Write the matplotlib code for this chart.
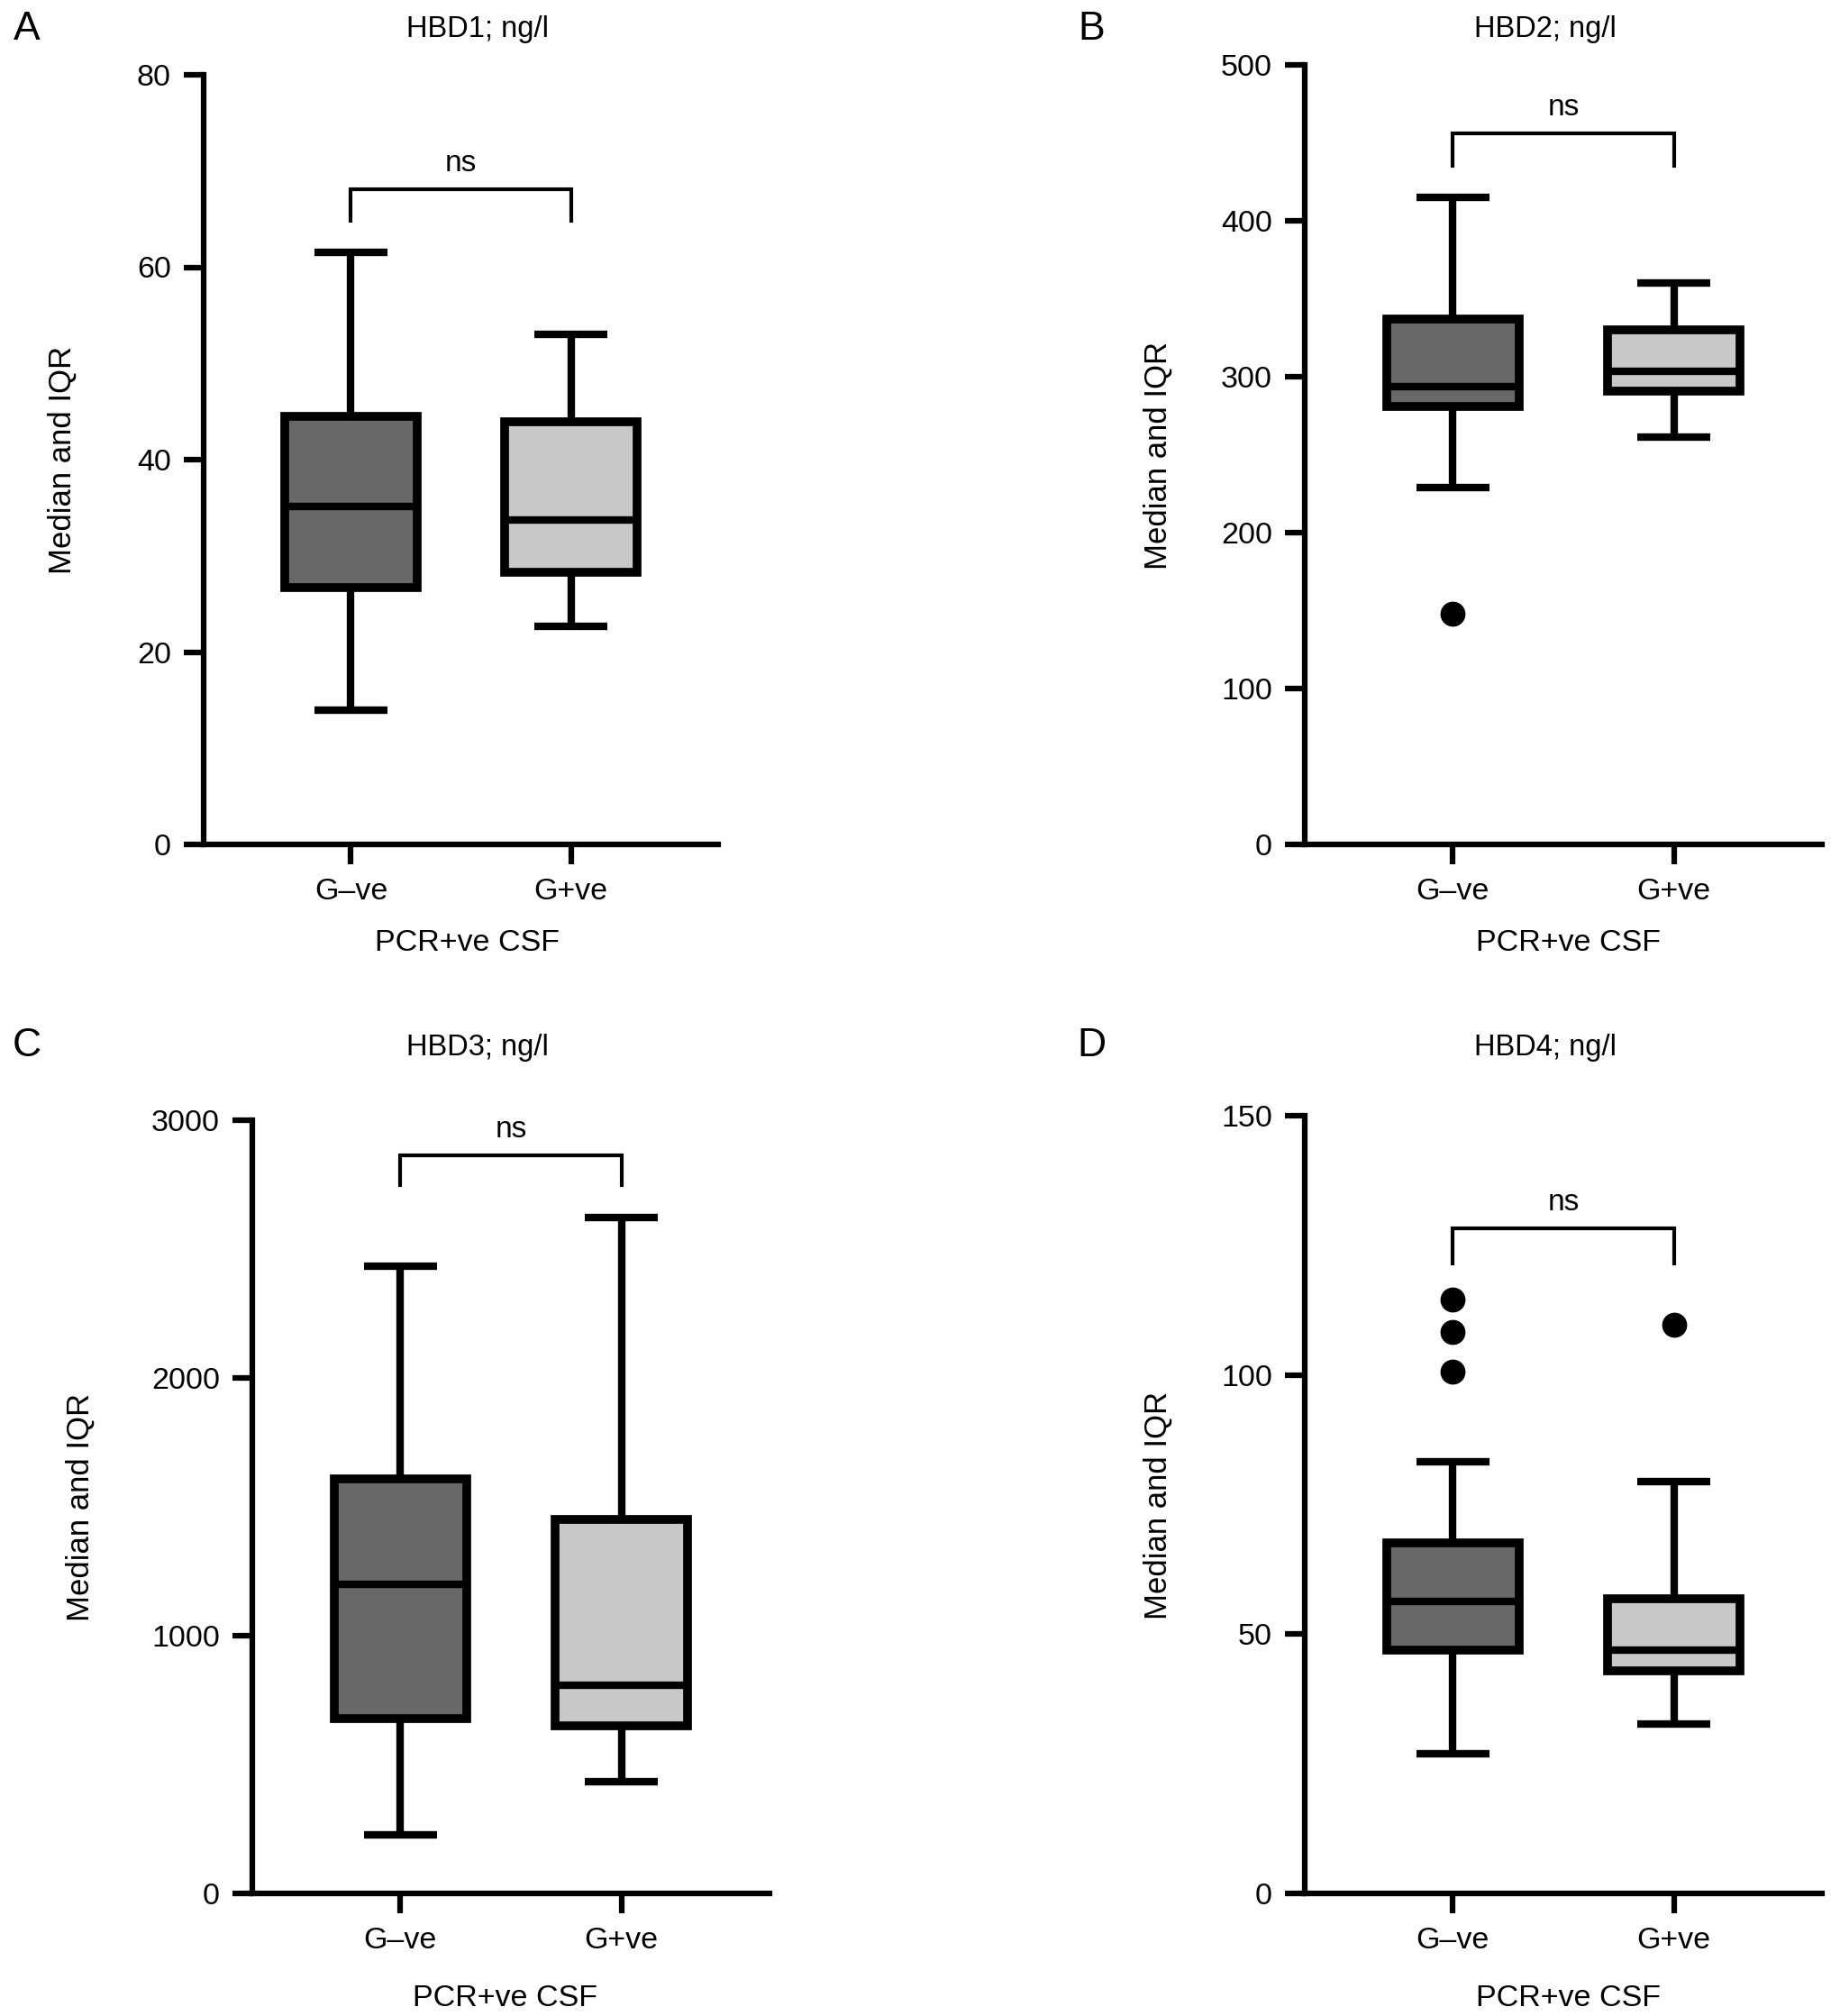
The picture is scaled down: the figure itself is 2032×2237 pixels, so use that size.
import matplotlib
matplotlib.use("Agg")
import matplotlib.pyplot as plt

plt.rcParams['font.family'] = ['Liberation Sans', 'DejaVu Sans']

# ---- data (median / IQR / whiskers / outliers) ----
groups = ['G–ve', 'G+ve']

hbd1_q1 = [26.7, 28.3]
hbd1_med = [35.1, 33.7]
hbd1_q3 = [44.5, 43.9]
hbd1_lo = [14.0, 22.7]
hbd1_hi = [61.5, 53.0]
hbd1_out = [[], []]

hbd2_q1 = [281, 291]
hbd2_med = [293.5, 303.6]
hbd2_q3 = [337, 330]
hbd2_lo = [229, 261]
hbd2_hi = [415, 360]
hbd2_out = [[148], []]

hbd3_q1 = [679, 650]
hbd3_med = [1200, 806]
hbd3_q3 = [1610, 1452]
hbd3_lo = [228, 433]
hbd3_hi = [2433, 2622]
hbd3_out = [[], []]

hbd4_q1 = [47.0, 43.0]
hbd4_med = [56.3, 47.0]
hbd4_q3 = [67.6, 56.8]
hbd4_lo = [27.0, 32.7]
hbd4_hi = [83.3, 79.5]
hbd4_out = [[114.6, 108.3, 100.7], [109.7]]

titles = ['HBD1; ng/l', 'HBD2; ng/l', 'HBD3; ng/l', 'HBD4; ng/l']
letters = ['A', 'B', 'C', 'D']
ylims = [80, 500, 3000, 150]
ysteps = [20, 100, 1000, 50]
# bracket height and the lower end of its legs
brackets = [(68.1, 64.8), (456, 435), (2865, 2750), (128.2, 121.5)]

box_colors = ['#686868', '#c8c8c8']

W, H = 2032, 2237
fig = plt.figure(figsize=(W / 100, H / 100), dpi=100)


def px_axes(x0, x1, ytop, ybot):
    return fig.add_axes([x0 / W, 1 - ybot / H, (x1 - x0) / W, (ybot - ytop) / H])


axes = [
    px_axes(226, 797, 83, 937),
    px_axes(1448, 2022, 72, 937),
    px_axes(280, 854, 1243, 2101),
    px_axes(1448, 2022, 1238, 2101),
]

panels = [
    (hbd1_q1, hbd1_med, hbd1_q3, hbd1_lo, hbd1_hi, hbd1_out),
    (hbd2_q1, hbd2_med, hbd2_q3, hbd2_lo, hbd2_hi, hbd2_out),
    (hbd3_q1, hbd3_med, hbd3_q3, hbd3_lo, hbd3_hi, hbd3_out),
    (hbd4_q1, hbd4_med, hbd4_q3, hbd4_lo, hbd4_hi, hbd4_out),
]

for i, ax in enumerate(axes):
    q1, med, q3, lo, hi, out = panels[i]
    stats = []
    for j in range(2):
        stats.append(dict(q1=q1[j], med=med[j], q3=q3[j], whislo=lo[j],
                          whishi=hi[j], fliers=out[j]))
    bp = ax.bxp(stats, positions=[1, 2], widths=0.6, capwidths=0.33,
                patch_artist=True, showfliers=True,
                boxprops=dict(edgecolor='black', linewidth=7, joinstyle='miter'),
                medianprops=dict(color='black', linewidth=6.0, solid_capstyle='butt'),
                whiskerprops=dict(color='black', linewidth=6.0, solid_capstyle='butt'),
                capprops=dict(color='black', linewidth=6.0, solid_capstyle='butt'),
                flierprops=dict(marker='o', markerfacecolor='black',
                                markeredgecolor='black', markersize=19))
    for patch, c in zip(bp['boxes'], box_colors):
        patch.set_facecolor(c)
    for w in bp['whiskers']:
        w.set_zorder(1)
    for c in bp['caps']:
        c.set_zorder(1)

    # significance bracket
    top, leg = brackets[i]
    ax.plot([1, 1, 2, 2], [leg, top, top, leg], color='black', lw=3,
            solid_joinstyle='miter', clip_on=False)
    ax.text(1.5, top + ylims[i] * 0.015, 'ns', ha='center', va='bottom', fontsize=24)

    ax.set_xlim(0.33, 2.67)
    ax.set_ylim(0, ylims[i])
    ax.set_yticks(range(0, ylims[i] + 1, ysteps[i]))
    ax.set_xticks([1, 2])
    ax.set_xticklabels(groups)
    for s in ['top', 'right']:
        ax.spines[s].set_visible(False)
    for s in ['left', 'bottom']:
        ax.spines[s].set_linewidth(4.5)
    ax.tick_params(axis='both', length=16, width=4.5, labelsize=24.5, pad=10)
    ax.tick_params(axis='x', pad=11)

# titles, letters and axis labels
fig.text(530 / W, 1 - 33 / H, titles[0], ha='center', va='center', fontsize=23.5)
fig.text(1715 / W, 1 - 33 / H, titles[1], ha='center', va='center', fontsize=23.5)
fig.text(530 / W, 1 - 1162 / H, titles[2], ha='center', va='center', fontsize=23.5)
fig.text(1715 / W, 1 - 1162 / H, titles[3], ha='center', va='center', fontsize=23.5)

fig.text(30 / W, 1 - 32 / H, letters[0], ha='center', va='center', fontsize=32)
fig.text(1211 / W, 1 - 32 / H, letters[1], ha='center', va='center', fontsize=32)
fig.text(30 / W, 1 - 1161 / H, letters[2], ha='center', va='center', fontsize=32)
fig.text(1211 / W, 1 - 1161 / H, letters[3], ha='center', va='center', fontsize=32)

ylabel_pos = [(69, 510), (1285, 505), (89, 1672), (1285, 1670)]
xlabel_pos = [(518, 1046), (1740, 1046), (560, 2217), (1740, 2217)]
for (x, y) in ylabel_pos:
    fig.text(x / W, 1 - y / H, 'Median and IQR', rotation=90, ha='center',
             va='center', fontsize=25)
for (x, y) in xlabel_pos:
    fig.text(x / W, 1 - y / H, 'PCR+ve CSF', ha='center', va='center', fontsize=24.5)

fig.savefig('out.png', dpi=100)
